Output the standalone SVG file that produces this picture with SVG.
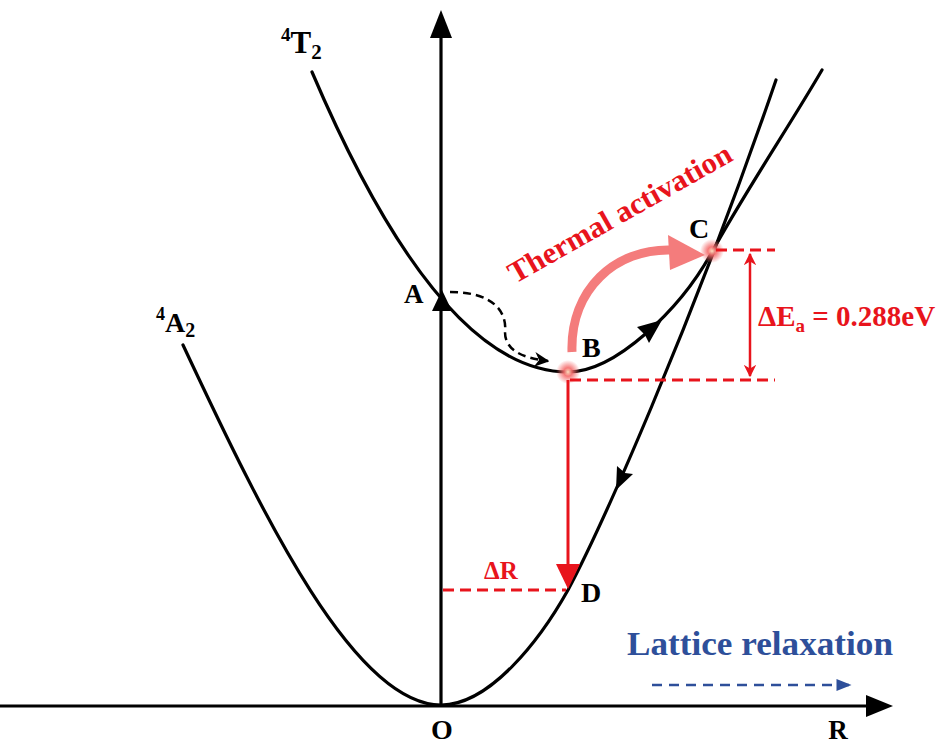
<svg xmlns="http://www.w3.org/2000/svg" width="950" height="744" viewBox="0 0 950 744">
<defs>
<style>
.curve{fill:none;stroke:#000;stroke-width:3.2;stroke-linecap:round}
.axis{fill:none;stroke:#000;stroke-width:3.2}
.lbl{font-family:"Liberation Serif","Times New Roman",serif;font-weight:bold;fill:#000}
.rtxt{font-family:"Liberation Serif","Times New Roman",serif;font-weight:bold;fill:#e8141c}
.rdash{fill:none;stroke:#e8141c;stroke-width:3;stroke-dasharray:11 6}
</style>
<radialGradient id="glow">
<stop offset="0" stop-color="#ffe0c0"/>
<stop offset="0.35" stop-color="#f46a6a" stop-opacity="0.9"/>
<stop offset="1" stop-color="#f46a6a" stop-opacity="0"/>
</radialGradient>
<marker id="ra" viewBox="0 0 10 10" refX="9" refY="5" markerWidth="5" markerHeight="5" orient="auto-start-reverse" markerUnits="strokeWidth">
<path d="M0,0 L10,5 L0,10 L3,5 Z" fill="#e8141c"/>
</marker>
<marker id="ka" viewBox="0 0 10 10" refX="9" refY="5" markerWidth="6" markerHeight="6" orient="auto" markerUnits="strokeWidth">
<path d="M0,0 L10,5 L0,10 L3,5 Z" fill="#000"/>
</marker>
<marker id="ba" viewBox="0 0 10 10" refX="9" refY="5" markerWidth="7" markerHeight="6" orient="auto" markerUnits="strokeWidth">
<path d="M0,1 L10,5 L0,9 Z" fill="#2e4f9a"/>
</marker>
</defs>
<rect width="950" height="744" fill="#fff"/>

<g id="axes">
<line class="axis" x1="441" y1="706" x2="441" y2="34"/>
<polygon points="441,10 430,38 452,38" fill="#000"/>
<line class="axis" x1="0" y1="706" x2="870" y2="706"/>
<polygon points="893,706 866,695 866,717" fill="#000"/>
<text class="lbl" x="442" y="739" font-size="28" text-anchor="middle">O</text>
<text class="lbl" x="838" y="739" font-size="27" text-anchor="middle">R</text>
</g>

<g id="curve-4A2">
<path class="curve" d="M183,345 C265,520 355,705 441,705 C490,705 540,640 568,590 C600,530 690,330 776,80"/>
<polygon points="616,490 617,466 625,473 633,474" fill="#000"/>
<text class="lbl" x="156" y="332" font-size="28"><tspan font-size="18" dy="-12">4</tspan><tspan dy="12">A</tspan><tspan font-size="20" dy="5">2</tspan></text>
</g>

<g id="curve-4T2">
<path class="curve" d="M312,72 Q440,372 568,372 C615,372 680,310 712,252 C745,192 790,125 822,70"/>
<polygon points="662,320 637,327 645,335 649,343" fill="#000"/>
<text class="lbl" x="281" y="53" font-size="31"><tspan font-size="19" dy="-12">4</tspan><tspan dy="12">T</tspan><tspan font-size="21" dy="6">2</tspan></text>
</g>

<g id="point-A">
<polygon points="442,290 432,311 452,311" fill="#000"/>
<text class="lbl" x="404" y="303" font-size="27">A</text>
<path d="M450,292 C497,292 507,315 505,332 C505,350 522,358 548,361" fill="none" stroke="#000" stroke-width="2.5" stroke-dasharray="8 5" marker-end="url(#ka)"/>
</g>

<g id="point-B">
<circle cx="568" cy="372" r="12" fill="url(#glow)"/>
<text class="lbl" x="582" y="357" font-size="28">B</text>
</g>

<g id="point-C">
<circle cx="712" cy="251" r="12" fill="url(#glow)"/>
<text class="lbl" x="689" y="238" font-size="28">C</text>
</g>

<g id="thermal">
<path d="M572,352 C570,290 615,248 672,250" fill="none" stroke="#f47c7c" stroke-width="9"/>
<polygon points="705,255 668,235 670,270" fill="#f47c7c"/>
<text class="rtxt" x="0" y="0" font-size="30" textLength="252" lengthAdjust="spacingAndGlyphs" transform="translate(515,284) rotate(-29.5)">Thermal activation</text>
</g>

<g id="energy">
<line class="rdash" x1="716" y1="250" x2="775" y2="250"/>
<line class="rdash" x1="570" y1="380" x2="775" y2="380"/>
<line x1="750" y1="254" x2="750" y2="376" stroke="#e8141c" stroke-width="2.5" marker-start="url(#ra)" marker-end="url(#ra)"/>
<text class="rtxt" x="758" y="326" font-size="29">ΔE<tspan font-size="19" dy="6">a</tspan><tspan dy="-6"> = 0.288eV</tspan></text>
</g>

<g id="point-D">
<line x1="568" y1="380" x2="568" y2="570" stroke="#e8141c" stroke-width="3"/>
<polygon points="568,589 556,564 580,564" fill="#e8141c"/>
<line class="rdash" x1="443" y1="590" x2="566" y2="590"/>
<text class="rtxt" x="484" y="579" font-size="25">ΔR</text>
<text class="lbl" x="581" y="602" font-size="28" fill="#111">D</text>
</g>

<g id="lattice">
<text x="627" y="655" font-family="Liberation Serif, Times New Roman, serif" font-weight="bold" font-size="33" fill="#2e4f9a" textLength="266" lengthAdjust="spacingAndGlyphs">Lattice relaxation</text>
<line x1="652" y1="685" x2="850" y2="685" stroke="#2e4f9a" stroke-width="2.5" stroke-dasharray="10 7" marker-end="url(#ba)"/>
</g>
</svg>
